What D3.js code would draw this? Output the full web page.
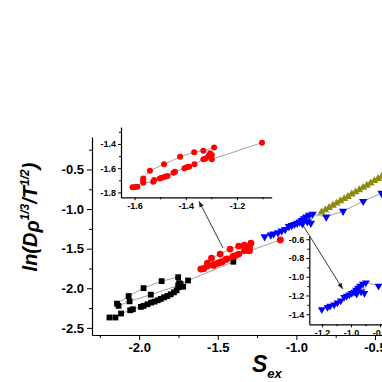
<!DOCTYPE html>
<html><head><meta charset="utf-8">
<script src="https://cdn.jsdelivr.net/npm/d3@7"></script>
<style>body{margin:0;background:#fff}svg{display:block}</style>
</head><body>
<svg id="c" width="382" height="382"></svg>
<script>
// ---------------- data ----------------
const blackUpperX = [-2.141, -2.067, -1.972, -1.857, -1.752, -1.746];
const blackUpperY = [-2.194, -2.098, -1.998, -1.910, -1.860, -1.935];
const blackMidX = [-2.131, -2.061, -1.926, -1.752, -1.720];
const blackMidY = [-2.222, -2.165, -2.081, -1.965, -1.980];
const blackLowerX = [-2.189, -2.151, -2.115, -2.057, -2.040, -1.989, -1.972, -1.947, -1.924, -1.903, -1.882, -1.863, -1.842, -1.821, -1.800, -1.779, -1.762, -1.746, -1.737, -1.689, -1.401];
const blackLowerY = [-2.369, -2.369, -2.319, -2.277, -2.265, -2.235, -2.222, -2.202, -2.181, -2.169, -2.152, -2.135, -2.115, -2.098, -2.077, -2.052, -2.027, -1.985, -1.944, -1.902, -1.665];

const redUpperX = [-1.566, -1.540, -1.485, -1.422, -1.367, -1.331, -1.289];
const redUpperY = [-1.684, -1.620, -1.568, -1.505, -1.469, -1.455, -1.430];
const redLowerX = [-1.608, -1.598, -1.589, -1.566, -1.566, -1.527, -1.523, -1.501, -1.494, -1.481, -1.471, -1.448, -1.442, -1.405, -1.396, -1.387, -1.366, -1.331, -1.322, -1.311, -1.305, -1.298, -1.298, -1.102];
const redLowerY = [-1.758, -1.755, -1.752, -1.698, -1.720, -1.712, -1.698, -1.684, -1.679, -1.670, -1.665, -1.637, -1.629, -1.601, -1.593, -1.587, -1.568, -1.527, -1.519, -1.499, -1.477, -1.491, -1.527, -1.389];

const blueX = [-1.202, -1.163, -1.145, -1.117, -1.094, -1.071, -1.048, -1.030, -1.012, -0.995, -0.979, -0.966, -0.961, -0.952, -0.938, -0.931, -0.919, -0.908, -0.897, -0.810, -0.703, -0.575, -0.458, -0.340];
const blueY = [-1.349, -1.327, -1.313, -1.299, -1.277, -1.256, -1.220, -1.206, -1.192, -1.177, -1.163, -1.142, -1.184, -1.120, -1.099, -1.160, -1.078, -1.177, -1.063, -1.099, -1.027, -0.902, -0.798, -0.700];

const oliveX = [-0.840, -0.816, -0.792, -0.768, -0.744, -0.720, -0.696, -0.672, -0.648, -0.624, -0.600, -0.576, -0.552, -0.528, -0.504, -0.480, -0.456, -0.432];
const oliveY = [-1.040, -1.012, -0.983, -0.955, -0.927, -0.898, -0.870, -0.842, -0.813, -0.785, -0.757, -0.728, -0.700, -0.672, -0.643, -0.615, -0.587, -0.558];

const mainXTicks = [-2.0, -1.5, -1.0, -0.5];
const mainXMinor = [-2.25, -1.75, -1.25, -0.75, -0.25];
const mainYTicks = [-2.5, -2.0, -1.5, -1.0, -0.5];
const mainYMinor = [-2.25, -1.75, -1.25, -0.75, -0.25];

const in1XTicks = [-1.6, -1.4, -1.2];
const in1XMinor = [-1.5, -1.3, -1.1];
const in1YTicks = [-1.8, -1.6, -1.4];
const in1YMinor = [-1.7, -1.5, -1.3];

const in2XTicks = [-1.2, -1.0, -0.8];
const in2XMinor = [-1.1, -0.9, -0.7];
const in2YTicks = [-1.4, -1.2, -1.0, -0.8, -0.6];
const in2YMinor = [-1.3, -1.1, -0.9, -0.7];

// arrows in main-data coordinates [fromX, fromY, toX, toY]
const arrow1 = [-1.467, -1.49, -1.620, -0.90];
const arrow2 = [-0.955, -1.215, -0.705, -2.01];

// ---------------- drawing ----------------
const FONT = "'Liberation Sans', Arial, Helvetica, sans-serif";
const svg = d3.select("#c");
const zip = (xs, ys) => xs.map((x, i) => [x, ys[i]]);
const fmt = d => d.toFixed(1);

const mx = d3.scaleLinear().domain([-2.3, 0.0]).range([92, 453.6]);
const my = d3.scaleLinear().domain([-2.59, -0.09]).range([335, 137]);

const LINE = "#8a8a8a";

function styleAxis(g, fs) {
  g.select(".domain").attr("stroke", "#000").attr("stroke-width", 1.2);
  g.selectAll(".tick line").attr("stroke", "#000").attr("stroke-width", 1);
  g.selectAll("text").attr("font-family", FONT).attr("font-weight", "bold")
    .attr("font-size", fs).attr("fill", "#000");
}

function drawAxes(g, sx, sy, xT, xM, yT, yM, fs, tMaj, tMin, pad) {
  const y0 = sy.range()[0], x0 = sx.range()[0];
  const gx = g.append("g").attr("transform", `translate(0,${y0})`)
    .call(d3.axisBottom(sx).tickValues(xT).tickFormat(fmt).tickSize(tMaj).tickSizeOuter(0).tickPadding(pad));
  styleAxis(gx, fs);
  const gxm = g.append("g").attr("transform", `translate(0,${y0})`)
    .call(d3.axisBottom(sx).tickValues(xM).tickFormat(() => "").tickSize(tMin).tickSizeOuter(0));
  gxm.select(".domain").remove();
  gxm.selectAll(".tick line").attr("stroke", "#000");
  const gy = g.append("g").attr("transform", `translate(${x0},0)`)
    .call(d3.axisLeft(sy).tickValues(yT).tickFormat(fmt).tickSize(tMaj).tickSizeOuter(0).tickPadding(pad));
  styleAxis(gy, fs);
  const gym = g.append("g").attr("transform", `translate(${x0},0)`)
    .call(d3.axisLeft(sy).tickValues(yM).tickFormat(() => "").tickSize(tMin).tickSizeOuter(0));
  gym.select(".domain").remove();
  gym.selectAll(".tick line").attr("stroke", "#000");
}

function polyline(g, sx, sy, pts) {
  g.append("path").datum(pts)
    .attr("d", d3.line().x(d => sx(d[0])).y(d => sy(d[1])))
    .attr("fill", "none").attr("stroke", LINE).attr("stroke-width", 0.8);
}
function squares(g, sx, sy, pts, s) {
  g.selectAll(null).data(pts).enter().append("rect")
    .attr("x", d => sx(d[0]) - s / 2).attr("y", d => sy(d[1]) - s / 2)
    .attr("width", s).attr("height", s).attr("fill", "#000");
}
function circles(g, sx, sy, pts, r) {
  g.selectAll(null).data(pts).enter().append("circle")
    .attr("cx", d => sx(d[0])).attr("cy", d => sy(d[1])).attr("r", r).attr("fill", "#ff0000");
}
function triangles(g, sx, sy, pts, size, down, color) {
  const sym = d3.symbol(d3.symbolTriangle, size);
  g.selectAll(null).data(pts).enter().append("path")
    .attr("d", sym)
    .attr("transform", d => `translate(${sx(d[0])},${sy(d[1])})${down ? " rotate(180)" : ""}`)
    .attr("fill", color);
}

const blackU = zip(blackUpperX, blackUpperY);
const blackM = zip(blackMidX, blackMidY);
const blackL = zip(blackLowerX, blackLowerY);
const redU = zip(redUpperX, redUpperY);
const redL = zip(redLowerX, redLowerY);
const blue = zip(blueX, blueY);
const olive = zip(oliveX, oliveY);

// main chart
const main = svg.append("g");
drawAxes(main, mx, my, mainXTicks, mainXMinor, mainYTicks, mainYMinor, 13, 5, 3, 3);

[blackU, blackM, blackL, redU, redL, blue].forEach(p => polyline(main, mx, my, p));
squares(main, mx, my, blackU.concat(blackM, blackL), 5.8);
circles(main, mx, my, redU.concat(redL), 3.4);
triangles(main, mx, my, blue, 30, true, "#0000ff");
triangles(main, mx, my, olive, 28, false, "#8a8a0c");

// axis titles
const yl = svg.append("text")
  .attr("transform", "translate(37,217) rotate(-90)")
  .attr("text-anchor", "middle")
  .attr("font-family", FONT).attr("font-weight", "bold").attr("font-style", "italic")
  .attr("font-size", 20).attr("fill", "#000");
yl.append("tspan").text("ln(D");
yl.append("tspan").attr("dy", 2).text("ρ");
yl.append("tspan").attr("dy", -10).attr("font-size", 12).text("1/3");
yl.append("tspan").attr("dy", 8).text("/T");
yl.append("tspan").attr("dy", -8).attr("font-size", 12).text("1/2");
yl.append("tspan").attr("dy", 8).text(")");

const xl = svg.append("text")
  .attr("x", 252).attr("y", 372)
  .attr("font-family", FONT).attr("font-weight", "bold").attr("font-style", "italic")
  .attr("font-size", 23).attr("fill", "#000");
xl.append("tspan").text("S");
xl.append("tspan").attr("dy", 6).attr("font-size", 13).text("ex");

// inset 1 (red)
const i1x = d3.scaleLinear().domain([-1.653, -1.064]).range([121, 271.7]);
const i1y = d3.scaleLinear().domain([-1.84, -1.26]).range([197.3, 127]);
const in1 = svg.append("g");
drawAxes(in1, i1x, i1y, in1XTicks, in1XMinor, in1YTicks, in1YMinor, 9, 3, 2, 2);
polyline(in1, i1x, i1y, redU);
polyline(in1, i1x, i1y, redL);
circles(in1, i1x, i1y, redU.concat(redL), 3.0);

// inset 2 (blue)
const i2x = d3.scaleLinear().domain([-1.288, -0.60]).range([309.3, 409]);
const i2y = d3.scaleLinear().domain([-1.508, -0.565]).range([324.3, 236]);
const in2 = svg.append("g");
drawAxes(in2, i2x, i2y, in2XTicks, in2XMinor, in2YTicks, in2YMinor, 9, 3, 2, 2);
svg.append("clipPath").attr("id", "cl2").append("rect")
  .attr("x", 309.3).attr("y", 236).attr("width", 100).attr("height", 88.3);
const in2d = in2.append("g").attr("clip-path", "url(#cl2)");
polyline(in2d, i2x, i2y, blue);
triangles(in2d, i2x, i2y, blue, 26, true, "#0000ff");

// arrows
function arrow(a) {
  const x1 = mx(a[0]), y1 = my(a[1]), x2 = mx(a[2]), y2 = my(a[3]);
  const ang = Math.atan2(y2 - y1, x2 - x1);
  const L = 6, W = 2.4;
  svg.append("line").attr("x1", x1).attr("y1", y1).attr("x2", x2).attr("y2", y2)
    .attr("stroke", "#222").attr("stroke-width", 0.9);
  const bx = x2 - L * Math.cos(ang), by = y2 - L * Math.sin(ang);
  const px = -Math.sin(ang) * W, py = Math.cos(ang) * W;
  svg.append("path")
    .attr("d", `M${x2},${y2}L${bx + px},${by + py}L${bx - px},${by - py}Z`)
    .attr("fill", "#222");
}
arrow(arrow1);
arrow(arrow2);
</script>
</body></html>
